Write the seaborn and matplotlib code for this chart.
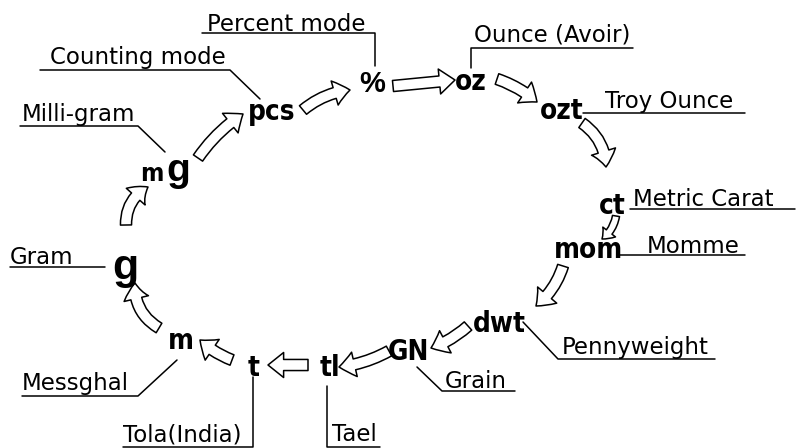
import matplotlib
matplotlib.use("Agg")
import matplotlib.pyplot as plt
import pandas as pd
import seaborn as sns
from matplotlib.patches import ArrowStyle, FancyArrowPatch

# unit symbols in the order the mode key cycles through them
units = ["pcs", "%", "oz", "ozt", "ct", "mom", "dwt", "GN", "tl", "t", "m", "g", "mg"]
unit_x = [272, 372, 471, 562, 612, 589, 499, 408, 330, 254, 181, 125, 168]
unit_y = [112, 84, 82, 111, 206, 250, 324, 352, 368, 368, 341, 268, 172]

# descriptive labels (same order as units)
names = ["Counting mode", "Percent mode", "Ounce (Avoir)", "Troy Ounce", "Metric Carat",
         "Momme", "Pennyweight", "Grain", "Tael", "Tola(India)", "Messghal", "Gram",
         "Milli-gram"]
name_x = [50, 207, 474, 605, 633, 647, 562, 445, 332, 123, 22, 10, 22]
name_y = [64, 31, 42, 108, 206, 253, 354, 388, 441, 441, 390, 264, 121]

# leader / underline polylines for each label
leader_x = [[40, 230, 260], [202, 375, 375], [471, 471, 633], [583, 745], [630, 795],
            [618, 745], [523, 558, 715], [417, 442, 515], [327, 327, 380],
            [123, 253, 253], [22, 138, 177], [10, 105], [20, 138, 165]]
leader_y = [[70, 70, 99], [33, 33, 66], [68, 48, 48], [113, 113], [209, 209],
            [255, 255], [322, 359, 359], [367, 391, 391], [386, 447, 447],
            [447, 447, 377], [396, 396, 360], [267, 267], [126, 126, 152]]

# hollow arrows: unit i -> unit i+1 (tail, tip, bend)
arrow_tail = [(303, 110), (393, 86), (497, 79), (582, 123), (616, 216), (563, 266),
              (468, 326), (389, 351), (308, 365), (232, 360), (159, 328), (126, 225),
              (198, 158)]
arrow_tip = [(350, 90), (455, 80), (537, 102), (606, 167), (602, 239), (536, 306),
             (431, 348), (339, 367), (268, 365), (200, 340), (135, 283), (148, 187),
             (243, 114)]
arrow_rad = [-0.15, 0.0, -0.1, -0.25, -0.2, -0.15, -0.1, -0.1, 0.0, -0.1, -0.3, -0.3, -0.1]

sns.set_theme(style="white")
plt.rcParams["font.family"] = ["DejaVu Sans"]
plt.rcParams["text.color"] = "black"

fig = plt.figure(figsize=(7.99, 4.48), dpi=100)
ax = fig.add_axes([0, 0, 1, 1])

rows = []
for name, xs, ys in zip(names, leader_x, leader_y):
    for k, (x, y) in enumerate(zip(xs, ys)):
        rows.append({"label": name, "step": k, "x": x, "y": y})
leader_df = pd.DataFrame(rows)
sns.lineplot(data=leader_df, x="x", y="y", units="label", estimator=None, sort=False,
             color="black", lw=1.1, ax=ax)

narrow = dict(family=["DejaVu Sans"], stretch="condensed", weight="bold")
for u, x, y in zip(units, unit_x, unit_y):
    if u == "mg":
        ax.text(x - 16, y + 9, "m", fontsize=18, ha="center", va="baseline", **narrow)
        ax.text(x + 10, y + 9, "g", family=["Liberation Sans"], weight="bold",
                fontsize=28, ha="center", va="baseline")
    elif u == "g":
        ax.text(x, y, "g", family=["Liberation Sans"], weight="bold", fontsize=31,
                ha="center", va="center")
    elif u == "%":
        ax.text(x, y, "%", family=["Liberation Sans"], weight="bold", fontsize=21,
                ha="center", va="center")
    else:
        ax.text(x, y, u, fontsize=20, ha="center", va="center", **narrow)

for name, x, y in zip(names, name_x, name_y):
    ax.text(x, y, name, fontsize=16.5, ha="left", va="baseline")

style = ArrowStyle("Simple", head_length=0.45, head_width=0.72, tail_width=0.32)
for tail, tip, rad in zip(arrow_tail, arrow_tip, arrow_rad):
    # the short ct -> mom hop uses a smaller arrow so the head does not swallow it
    scale = 16 if tail == (616, 216) else 25
    ax.add_patch(FancyArrowPatch(tail, tip, arrowstyle=style, mutation_scale=scale,
                                 connectionstyle=f"arc3,rad={rad}", shrinkA=0, shrinkB=0,
                                 facecolor="white", edgecolor="black", lw=1.1))

ax.set_xlim(0, 799)
ax.set_ylim(448, 0)
ax.axis("off")
fig.savefig("out.png", dpi=100, facecolor="white")
